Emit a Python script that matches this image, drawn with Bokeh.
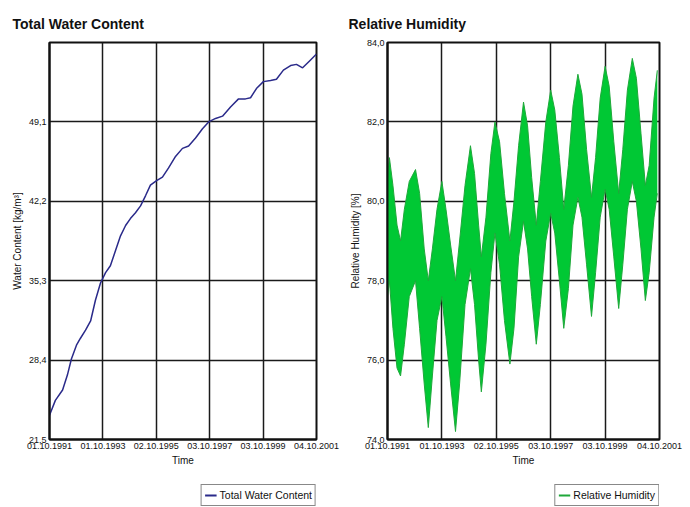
from bokeh.plotting import figure
from bokeh.layouts import row, column
from bokeh.models import FixedTicker, Legend, LegendItem, Title
from bokeh.embed import file_html
from bokeh.resources import INLINE

# ---------------- data ----------------
x_tick_years = [0, 2, 4, 6, 8, 10]
x_tick_labels = ["01.10.1991", "01.10.1993", "02.10.1995", "03.10.1997", "03.10.1999", "04.10.2001"]

wc_ticks = [21.5, 28.4, 35.3, 42.2, 49.1]
wc_tick_labels = ["21,5", "28,4", "35,3", "42,2", "49,1"]

rh_ticks = [74, 76, 78, 80, 82, 84]
rh_tick_labels = ["74,0", "76,0", "78,0", "80,0", "82,0", "84,0"]

# Total water content [kg/m³] over time (years since 01.10.1991)
wc_years = [0.00, 0.22, 0.49, 0.67, 0.82, 1.01, 1.16, 1.35, 1.54, 1.72, 1.91, 2.10,
            2.28, 2.47, 2.66, 2.85, 3.03, 3.22, 3.41, 3.60, 3.78, 4.01, 4.23, 4.46,
            4.72, 4.98, 5.21, 5.47, 5.73, 5.96, 6.22, 6.48, 6.78, 7.08, 7.34, 7.53,
            7.75, 8.01, 8.28, 8.50, 8.76, 9.03, 9.25, 9.48, 9.74, 10.0]
wc_values = [23.6, 24.9, 25.8, 27.1, 28.5, 29.7, 30.3, 31.0, 31.8, 33.6, 35.1, 36.0,
             36.6, 37.9, 39.2, 40.1, 40.7, 41.2, 41.8, 42.7, 43.6, 44.0, 44.3, 45.1,
             46.1, 46.8, 47.0, 47.7, 48.5, 49.1, 49.4, 49.6, 50.4, 51.1, 51.1, 51.2,
             52.0, 52.6, 52.7, 52.8, 53.6, 54.0, 54.1, 53.8, 54.4, 55.0]

# Relative humidity [%]: upper and lower envelope of the hourly signal
rh_years = [0.00, 0.07, 0.20, 0.35, 0.48, 0.62, 0.80, 1.03, 1.18, 1.35, 1.50, 1.65,
            1.82, 2.00, 2.15, 2.32, 2.50, 2.65, 2.85, 3.05, 3.20, 3.35, 3.45, 3.62,
            3.80, 3.95, 4.12, 4.30, 4.50, 4.65, 4.82, 5.00, 5.15, 5.30, 5.47, 5.62,
            5.82, 6.00, 6.15, 6.32, 6.48, 6.65, 6.82, 7.00, 7.15, 7.32, 7.50, 7.65,
            7.82, 8.00, 8.15, 8.32, 8.50, 8.65, 8.82, 9.00, 9.15, 9.32, 9.48, 9.62,
            9.80, 9.92]
rh_upper = [80.6, 81.1, 80.4, 79.4, 79.0, 79.8, 80.5, 80.8, 80.2, 78.8, 78.0, 78.8,
            79.8, 80.5, 79.8, 78.9, 78.0, 79.0, 80.4, 81.4, 80.7, 79.4, 78.6, 79.6,
            81.2, 82.0, 81.5, 80.2, 79.0, 80.0, 81.4, 82.5, 81.9, 80.6, 79.4, 80.5,
            82.0, 82.8, 82.3, 81.1, 79.8, 80.9, 82.4, 83.2, 82.7, 81.3, 80.1, 81.1,
            82.6, 83.4, 82.9, 81.5, 80.2, 81.3, 82.8, 83.6, 83.1, 81.7, 80.4, 80.9,
            82.6, 83.3]
rh_lower = [77.6, 78.0, 76.8, 75.8, 75.6, 76.4, 77.6, 78.0, 76.8, 75.4, 74.3, 75.6,
            77.0, 77.6, 76.6, 75.4, 74.2, 75.4, 77.4, 78.3, 77.4, 76.0, 75.2, 76.4,
            78.2, 79.2, 78.4, 77.0, 75.9, 76.8, 78.6, 79.5, 78.8, 77.6, 76.4, 77.4,
            79.0, 79.7, 79.2, 78.0, 76.8, 77.8, 79.4, 80.1, 79.6, 78.4, 77.1, 78.2,
            79.6, 80.3, 79.8, 78.6, 77.3, 78.4, 79.8, 80.5, 80.0, 78.8, 77.5, 78.2,
            79.6, 80.2]

FONT = "Liberation Sans"
WC_COLOR = "#2a2a8a"
RH_FILL = "#00c834"
RH_EDGE = "#1fa83a"


def style(p, yticks, ylabels, ylabel, title, title_offset):
    p.title = Title(text=title, align="left", offset=title_offset,
                    text_font=FONT, text_font_size="14px", text_font_style="bold",
                    text_color="#111111", standoff=22)
    p.xaxis.ticker = FixedTicker(ticks=x_tick_years)
    p.xaxis.major_label_overrides = dict(zip(x_tick_years, x_tick_labels))
    p.yaxis.ticker = FixedTicker(ticks=yticks)
    p.yaxis.major_label_overrides = dict(zip(yticks, ylabels))
    p.xaxis.axis_label = "Time"
    p.yaxis.axis_label = ylabel
    for ax in (p.xaxis[0], p.yaxis[0]):
        ax.major_tick_out = 0
        ax.major_tick_in = 0
        ax.minor_tick_out = 0
        ax.minor_tick_in = 0
        ax.axis_line_color = "#111111"
        ax.axis_line_width = 2
        ax.major_label_text_font = FONT
        ax.major_label_text_font_size = "9px"
        ax.major_label_text_color = "#111111"
        ax.major_label_standoff = 3
        ax.axis_label_text_font = FONT
        ax.axis_label_text_font_size = "10px"
        ax.axis_label_text_font_style = "normal"
        ax.axis_label_text_color = "#111111"
        ax.axis_label_standoff = 3
    p.xgrid.ticker = FixedTicker(ticks=x_tick_years)
    p.ygrid.ticker = FixedTicker(ticks=yticks + [p.y_range.end])
    for g in (p.xgrid[0], p.ygrid[0]):
        g.grid_line_color = "#1a1a1a"
        g.grid_line_width = 1.5
    p.outline_line_color = "#111111"
    p.outline_line_width = 2
    p.background_fill_color = "white"
    p.border_fill_color = "white"


def legend_strip(label, xs, ys, color, border_right):
    # a strip below the chart that only shows the legend box; the series drawn
    # here lies outside the strip's ranges and only supplies the legend swatch
    lf = figure(width=345, height=27, x_range=(-2, -1), y_range=(-2, -1),
                output_backend="svg", toolbar_location=None,
                x_axis_type=None, y_axis_type=None,
                min_border_left=0, min_border_right=border_right,
                min_border_top=4, min_border_bottom=1)
    lf.grid.visible = False
    lf.outline_line_color = None
    lf.background_fill_color = "white"
    lf.border_fill_color = "white"
    swatch = lf.line(xs, ys, line_color=color, line_width=2)
    lg = Legend(items=[LegendItem(label=label, renderers=[swatch])], location="top_right",
                border_line_color="#111111", border_line_width=1,
                background_fill_color="white", background_fill_alpha=1,
                label_text_font=FONT, label_text_font_size="10.5px", label_text_color="#111111",
                glyph_width=12, glyph_height=14, label_height=14, label_standoff=3,
                padding=3, margin=0, spacing=0)
    lf.add_layout(lg, "center")
    return lf


# ---------------- left: total water content ----------------
p1 = figure(width=345, height=480, x_range=(0, 10), y_range=(21.5, 56.0),
            output_backend="svg", toolbar_location=None,
            min_border_left=49, min_border_right=29, min_border_top=42, min_border_bottom=41)
style(p1, wc_ticks, wc_tick_labels, "Water Content [kg/m³]", "Total Water Content", -37)
p1.line(wc_years, wc_values, line_color=WC_COLOR, line_width=1.5)
l1 = legend_strip("Total Water Content", wc_years, wc_values, WC_COLOR, 29)

# ---------------- right: relative humidity ----------------
p2 = figure(width=345, height=480, x_range=(0, 10), y_range=(74, 84),
            output_backend="svg", toolbar_location=None,
            min_border_left=42, min_border_right=30, min_border_top=42, min_border_bottom=41)
style(p2, rh_ticks, rh_tick_labels, "Relative Humidity [%]", "Relative Humidity", -39)
p2.varea(x=rh_years, y1=rh_lower, y2=rh_upper, fill_color=RH_FILL, fill_alpha=1)
p2.line(rh_years, rh_upper, line_color=RH_EDGE, line_width=1)
p2.line(rh_years, rh_lower, line_color=RH_EDGE, line_width=1)
l2 = legend_strip("Relative Humidity", rh_years, rh_upper, RH_EDGE, 31)

layout = row(column(p1, l1, spacing=0), column(p2, l2, spacing=0), spacing=0)
open("out.html", "w").write(file_html(layout, INLINE))
